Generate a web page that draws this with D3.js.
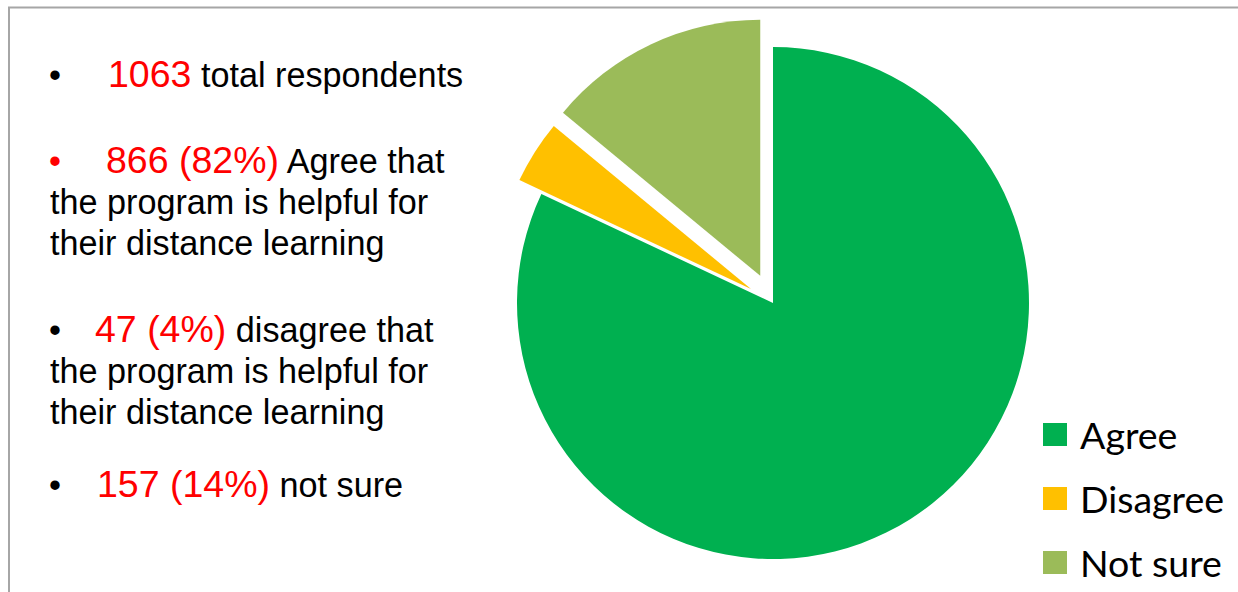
<!DOCTYPE html>
<html>
<head>
<meta charset="utf-8">
<script src="https://cdn.jsdelivr.net/npm/d3@7"></script>
<style>
  body { margin: 0; background: #fff; }
  svg { display: block; }
</style>
</head>
<body>
<div id="chart"></div>
<script>
// survey data
const categories = ["Agree", "Disagree", "Not sure"];
const percents = [82, 4, 14];          // slice sizes as drawn
const counts = [866, 47, 157];
const totalRespondents = 1063;
const colors = ["#00B050", "#FFC000", "#9BBB59"];

const width = 1238, height = 592;

const svg = d3.select("#chart").append("svg")
  .attr("width", width)
  .attr("height", height);

svg.append("rect").attr("width", width).attr("height", height).attr("fill", "#fff");

// frame (top + left edge)
svg.append("path")
  .attr("d", `M9,${height} L9,7.5 L${width},7.5`)
  .attr("fill", "none")
  .attr("stroke", "#a6a6a6")
  .attr("stroke-width", 2);

// ---- pie ----
const cx = 773, cy = 303, radius = 256;
const explode = [0, 26, 30]; // pull-out for disagree / not sure

const pie = d3.pie().sort(null).value(d => d.value);
const arc = d3.arc().innerRadius(0).outerRadius(radius);

const slices = pie(categories.map((c, i) => ({ name: c, value: percents[i], i })));

const pieG = svg.append("g").attr("transform", `translate(${cx},${cy})`);

pieG.selectAll("path")
  .data(slices)
  .enter()
  .append("path")
  .attr("d", arc)
  .attr("fill", d => colors[d.data.i])
  .attr("transform", d => {
    const mid = (d.startAngle + d.endAngle) / 2;
    const off = explode[d.data.i];
    return `translate(${Math.sin(mid) * off},${-Math.cos(mid) * off})`;
  });

// ---- legend ----
const legend = svg.append("g").attr("transform", "translate(1043,423)");
const legendItems = legend.selectAll("g")
  .data(categories)
  .enter()
  .append("g")
  .attr("transform", (d, i) => `translate(0,${i * 64})`);

legendItems.append("rect")
  .attr("width", 24)
  .attr("height", 23)
  .attr("fill", (d, i) => colors[i]);

legendItems.append("text")
  .attr("x", 37)
  .attr("y", 26)
  .style("font-family", "Lato, 'Open Sans', sans-serif")
  .style("font-size", "37.5px")
  .style("fill", "#000")
  .text(d => d);

// ---- bullet text ----
const bulletLines = [
  { y: 87, bulletColor: "#000", numX: 108, red: `${totalRespondents}`, rest: " total respondents", more: [] },
  { y: 173, bulletColor: "#ff0000", numX: 106, red: `${counts[0]} (${percents[0]}%)`, rest: " Agree that",
    more: ["the program is helpful for", "their distance learning"] },
  { y: 342, bulletColor: "#000", numX: 95, red: `${counts[1]} (${percents[1]}%)`, rest: " disagree that",
    more: ["the program is helpful for", "their distance learning"] },
  { y: 497, bulletColor: "#000", numX: 97, red: `${counts[2]} (${percents[2]}%)`, rest: " not sure", more: [] }
];

const textG = svg.append("g")
  .style("font-family", "'Liberation Sans', Arial, sans-serif")
  .style("font-size", "34.2px");

bulletLines.forEach(b => {
  textG.append("text")
    .attr("x", 49)
    .attr("y", b.y)
    .style("fill", b.bulletColor)
    .text("•");

  const t = textG.append("text")
    .attr("x", b.numX)
    .attr("y", b.y);
  t.append("tspan").style("fill", "#ff0000").style("font-size", "37.5px").text(b.red);
  t.append("tspan").style("fill", "#000").text(b.rest);

  b.more.forEach((line, j) => {
    textG.append("text")
      .attr("x", 50)
      .attr("y", b.y + 41 * (j + 1))
      .style("fill", "#000")
      .text(line);
  });
});
</script>
</body>
</html>
